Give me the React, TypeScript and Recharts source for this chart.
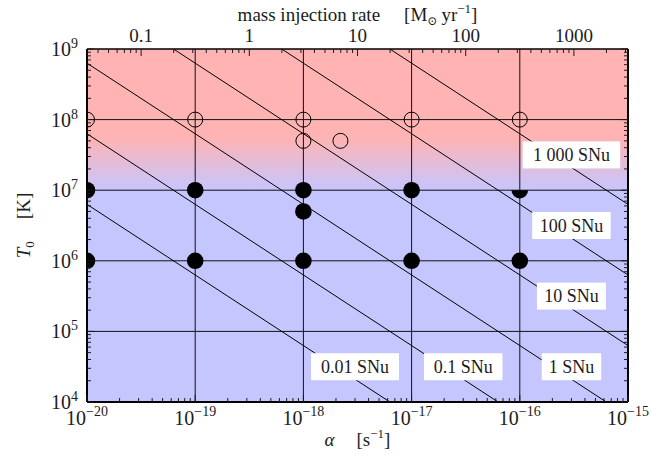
import React from "react";
import {
  ReferenceArea,
  ReferenceDot,
  ReferenceLine,
  Scatter,
  ScatterChart,
  XAxis,
  YAxis,
} from "recharts";

// simulation runs (alpha in s^-1, T0 in K)
const openAlpha = [1e-20, 1e-19, 1e-18, 1e-17, 1e-16, 1e-18, 2.2e-18];
const openTemp = [1e8, 1e8, 1e8, 1e8, 1e8, 5e7, 5e7];
const filledAlpha = [1e-20, 1e-19, 1e-18, 1e-17, 1e-18, 1e-20, 1e-19, 1e-18, 1e-17, 1e-16];
const filledTemp = [1e7, 1e7, 1e7, 1e7, 5e6, 1e6, 1e6, 1e6, 1e6, 1e6];
const halfAlpha = [1e-16];
const halfTemp = [1e7];

// constant supernova-rate lines, end points
const snuLabels = ["0.01 SNu", "0.1 SNu", "1 SNu", "10 SNu", "100 SNu", "1 000 SNu"];
const snuStartAlpha = [1e-20, 1e-20, 1e-20, 6.3e-20, 6.3e-19, 6.3e-18];
const snuStartTemp = [6.3e6, 6.3e7, 6.3e8, 1e9, 1e9, 1e9];
const snuEndAlpha = [6.3e-18, 6.3e-17, 6.3e-16, 1e-15, 1e-15, 1e-15];
const snuEndTemp = [1e4, 1e4, 1e4, 6.3e4, 6.3e5, 6.3e6];
const snuLabelAlpha = [3e-18, 3e-17, 3e-16, 3e-16, 3e-16, 3e-16];
const snuLabelTemp = [3.16e4, 3.16e4, 3.16e4, 3.16e5, 3.16e6, 3.16e7];

// axes
const alphaDomain = [1e-20, 1e-15];
const tempDomain = [1e4, 1e9];
const massDomain = [0.0316, 3162];
const alphaGrid = [1e-19, 1e-18, 1e-17, 1e-16];
const tempGrid = [1e5, 1e6, 1e7, 1e8];

const W = 651;
const H = 458;
const MARGIN = { top: 19, right: 23, bottom: 26, left: 37 };
const PLOT_RIGHT = W - MARGIN.right;
const FONT = "'Liberation Serif', 'DejaVu Serif', serif";
const INK = "#1c1c1c";

const decadeTicks = (lo: number, hi: number) => {
  const out: number[] = [];
  for (let e = Math.floor(Math.log10(lo)); e <= Math.ceil(Math.log10(hi)); e++) {
    for (let k = 1; k <= 9; k++) {
      const v = k * Math.pow(10, e);
      if (v >= lo * 0.999999 && v <= hi * 1.000001) out.push(v);
    }
  }
  return out;
};

const isMajor = (v: number) =>
  Math.abs(Math.log10(v) - Math.round(Math.log10(v))) < 1e-6;

const expText = (v: number) => {
  const e = Math.round(Math.log10(v));
  return e < 0 ? "\u2212" + Math.abs(e) : String(e);
};

const zip = (xs: number[], ys: number[]) => xs.map((a, i) => ({ a, t: ys[i] }));

const BottomTick = ({ x, y, payload }: any) => {
  const v = payload.value;
  const major = isMajor(v);
  return (
    <g>
      <line x1={x} x2={x} y1={y} y2={y - (major ? 7 : 4)} stroke={INK} />
      {major && (
        <text x={x} y={y + 23} textAnchor="middle" fontFamily={FONT} fontSize={20} fill={INK}>
          10
          <tspan dy={-9} fontSize={14}>
            {expText(v)}
          </tspan>
        </text>
      )}
    </g>
  );
};

const LeftTick = ({ x, y, payload }: any) => {
  const v = payload.value;
  const major = isMajor(v);
  const len = major ? 7 : 4;
  return (
    <g>
      <line x1={x} x2={x + len} y1={y} y2={y} stroke={INK} />
      <line x1={PLOT_RIGHT} x2={PLOT_RIGHT - len} y1={y} y2={y} stroke={INK} />
      {major && (
        <text x={x - 9} y={y + 7} textAnchor="end" fontFamily={FONT} fontSize={20} fill={INK}>
          10
          <tspan dy={-8} fontSize={14}>
            {expText(v)}
          </tspan>
        </text>
      )}
    </g>
  );
};

const TopTick = ({ x, y, payload }: any) => {
  const v = payload.value;
  const major = isMajor(v);
  return (
    <g>
      <line x1={x} x2={x} y1={y} y2={y + (major ? 7 : 4)} stroke={INK} />
      {major && (
        <text x={x} y={y - 7} textAnchor="middle" fontFamily={FONT} fontSize={19} fill={INK}>
          {String(v)}
        </text>
      )}
    </g>
  );
};

const TopTitle = ({ viewBox }: any) => (
  <text
    x={viewBox.x + viewBox.width / 2}
    y={viewBox.y + 2}
    textAnchor="middle"
    fontFamily={FONT}
    fontSize={19}
    fill={INK}
  >
    mass injection rate
    <tspan dx={24}>[M</tspan>
    <tspan dy={4} fontSize={12}>
      {"\u2299"}
    </tspan>
    <tspan dy={-4} dx={4}>
      yr
    </tspan>
    <tspan dy={-8} fontSize={13}>
      {"\u22121"}
    </tspan>
    <tspan dy={8}>]</tspan>
  </text>
);

const BottomTitle = ({ viewBox }: any) => (
  <text
    x={viewBox.x + viewBox.width / 2}
    y={viewBox.y + 44}
    textAnchor="middle"
    fontFamily={FONT}
    fontSize={19}
    fill={INK}
  >
    <tspan fontStyle="italic">{"\u03b1"}</tspan>
    <tspan dx={22}>[s</tspan>
    <tspan dy={-8} fontSize={13}>
      {"\u22121"}
    </tspan>
    <tspan dy={8}>]</tspan>
  </text>
);

const LeftTitle = ({ viewBox }: any) => {
  const cx = viewBox.x - 7;
  const cy = viewBox.y + viewBox.height / 2;
  return (
    <text
      x={cx}
      y={cy}
      transform={`rotate(-90, ${cx}, ${cy})`}
      textAnchor="middle"
      fontFamily={FONT}
      fontSize={19}
      fill={INK}
    >
      <tspan fontStyle="italic">T</tspan>
      <tspan dy={4} fontSize={13}>
        0
      </tspan>
      <tspan dy={-4} dx={22}>
        [K]
      </tspan>
    </text>
  );
};

const SnuLabel = (text: string) => (props: any) => {
  const { cx, cy } = props;
  const w = text.length * 9.5 + 12;
  return (
    <g>
      <rect x={cx - w / 2} y={cy - 13.5} width={w} height={27} fill="#ffffff" />
      <text x={cx} y={cy + 6} textAnchor="middle" fontFamily={FONT} fontSize={18} fill={INK}>
        {text}
      </text>
    </g>
  );
};

const Hidden = () => <g />;
const OpenDot = ({ cx, cy }: any) => (
  <circle cx={cx} cy={cy} r={7.5} fill="none" stroke="#000" strokeWidth={1} />
);
const FilledDot = ({ cx, cy }: any) => <circle cx={cx} cy={cy} r={8.3} fill="#000" />;
const HalfDot = ({ cx, cy }: any) => (
  <path d={`M${cx - 8.3},${cy} A8.3,8.3 0 0 0 ${cx + 8.3},${cy} Z`} fill="#000" />
);

export default function App() {
  const alphaTicks = decadeTicks(alphaDomain[0], alphaDomain[1]);
  const tempTicks = decadeTicks(tempDomain[0], tempDomain[1]);
  const massTicks = decadeTicks(massDomain[0], massDomain[1]);

  return (
    <div style={{ position: "absolute", left: 0, top: 0, width: W, height: H, background: "#fff" }}>
      <svg width={0} height={0} style={{ position: "absolute" }}>
        <defs>
          <linearGradient id="bgGrad" x1="0" y1="0" x2="0" y2="1">
            <stop offset="0" stopColor="#ffb3b3" />
            <stop offset="0.25" stopColor="#ffb3b3" />
            <stop offset="0.40" stopColor="#c6c6ff" />
            <stop offset="1" stopColor="#c6c6ff" />
          </linearGradient>
        </defs>
      </svg>
      <ScatterChart width={W} height={H} margin={MARGIN}>
        <ReferenceArea
          xAxisId="bottom"
          yAxisId="left"
          x1={alphaDomain[0]}
          x2={alphaDomain[1]}
          y1={tempDomain[0]}
          y2={tempDomain[1]}
          fill="url(#bgGrad)"
          fillOpacity={1}
          stroke="none"
          zIndex={-200}
        />
        {alphaGrid.map((a) => (
          <ReferenceLine key={"gx" + a} xAxisId="bottom" yAxisId="left" x={a} stroke="#111" strokeWidth={1} zIndex={-150} />
        ))}
        {tempGrid.map((t) => (
          <ReferenceLine key={"gy" + t} xAxisId="bottom" yAxisId="left" y={t} stroke="#111" strokeWidth={1} zIndex={-150} />
        ))}
        <ReferenceLine xAxisId="bottom" yAxisId="left" x={alphaDomain[1]} stroke="#000" strokeWidth={2} zIndex={-150} />
        {snuLabels.map((name, i) => (
          <Scatter
            key={"snu" + name}
            xAxisId="bottom"
            yAxisId="left"
            data={[
              { a: snuStartAlpha[i], t: snuStartTemp[i] },
              { a: snuEndAlpha[i], t: snuEndTemp[i] },
            ]}
            line={{ stroke: "#000", strokeWidth: 1 }}
            shape={Hidden}
            isAnimationActive={false}
            zIndex={610}
          />
        ))}
        {snuLabels.map((name, i) => (
          <ReferenceDot
            key={"lab" + name}
            xAxisId="bottom"
            yAxisId="left"
            x={snuLabelAlpha[i]}
            y={snuLabelTemp[i]}
            r={0}
            shape={SnuLabel(name)}
            zIndex={620}
          />
        ))}
        <Scatter
          xAxisId="bottom"
          yAxisId="left"
          data={zip(openAlpha, openTemp)}
          shape={OpenDot}
          isAnimationActive={false}
          zIndex={630}
        />
        <Scatter
          xAxisId="bottom"
          yAxisId="left"
          data={zip(filledAlpha, filledTemp)}
          shape={FilledDot}
          isAnimationActive={false}
          zIndex={630}
        />
        <Scatter
          xAxisId="bottom"
          yAxisId="left"
          data={zip(halfAlpha, halfTemp)}
          shape={HalfDot}
          isAnimationActive={false}
          zIndex={630}
        />
        <Scatter
          xAxisId="top"
          yAxisId="left"
          data={[
            { m: massDomain[0], t: tempDomain[0] },
            { m: massDomain[1], t: tempDomain[0] },
          ]}
          dataKey="t"
          shape={Hidden}
          isAnimationActive={false}
        />
        <XAxis
          xAxisId="bottom"
          dataKey="a"
          type="number"
          scale="log"
          domain={alphaDomain}
          allowDataOverflow
          ticks={alphaTicks}
          interval={0}
          tickSize={0}
          tickMargin={0}
          tickLine={false}
          tick={BottomTick}
          axisLine={{ stroke: "#000", strokeWidth: 2 }}
          height={30}
          orientation="bottom"
          label={BottomTitle}
        />
        <XAxis
          xAxisId="top"
          dataKey="m"
          type="number"
          scale="log"
          domain={massDomain}
          allowDataOverflow
          ticks={massTicks}
          interval={0}
          tickSize={0}
          tickMargin={0}
          tickLine={false}
          tick={TopTick}
          axisLine={{ stroke: "#000", strokeWidth: 1.4 }}
          height={30}
          orientation="top"
          label={TopTitle}
        />
        <YAxis
          yAxisId="left"
          dataKey="t"
          type="number"
          scale="log"
          domain={tempDomain}
          allowDataOverflow
          ticks={tempTicks}
          interval={0}
          tickSize={0}
          tickMargin={0}
          tickLine={false}
          tick={LeftTick}
          axisLine={{ stroke: "#000", strokeWidth: 2 }}
          width={50}
          label={LeftTitle}
        />
      </ScatterChart>
    </div>
  );
}
